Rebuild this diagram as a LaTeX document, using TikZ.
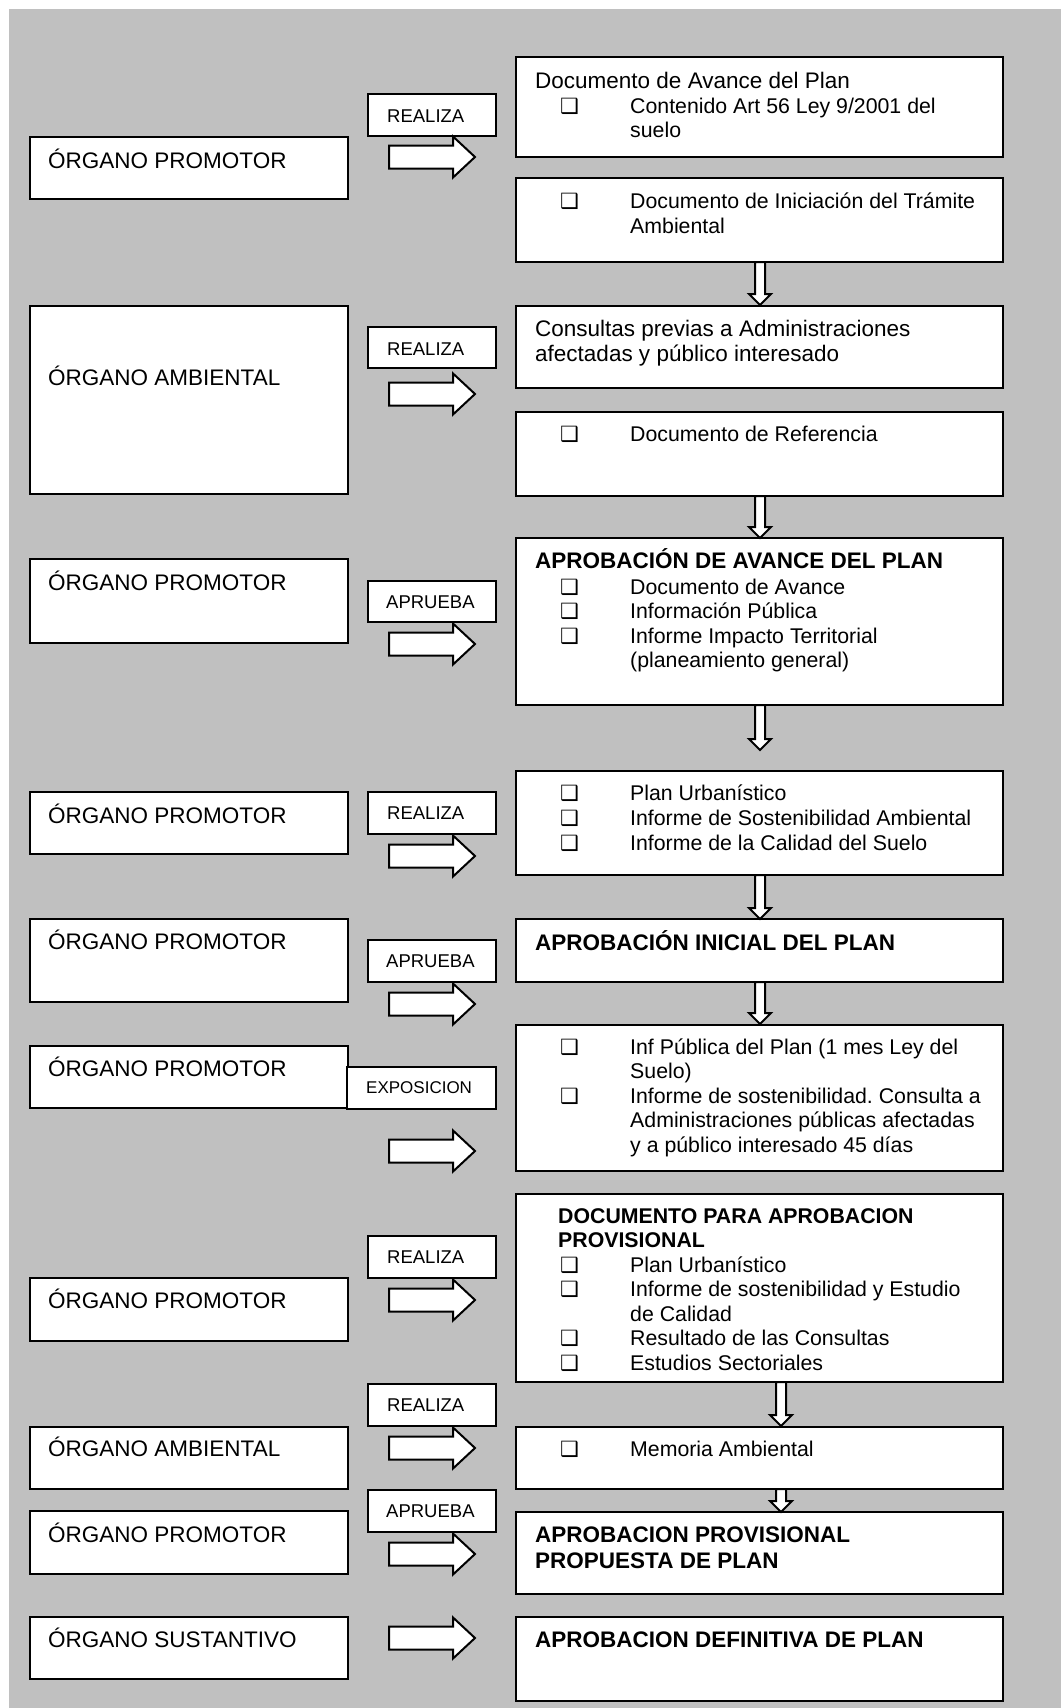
\documentclass[tikz,border=0pt]{standalone}
\usepackage{fontspec}
\setmainfont{Liberation Sans}
\newfontfamily\dejavu{DejaVu Sans}
\definecolor{bggray}{HTML}{C0C0C0}
\frenchspacing
\newcommand\chk{{\fontsize{21}{21}\dejavu ❑}}
\newcommand\Bx[5]{\node[box,anchor=north west,minimum width={(#4-#2)*1pt},minimum height={(#5-#3)*1pt}] (#1) at (#2,#3) {};}
\newcommand\Tx[4]{\node[txt] (#1) at (#2,#3) {#4};}
\newcommand\Ti[4]{\node[itxt] (#1) at (#2,#3) {#4};}
\newcommand\Bt[4]{\node[btxt] (#1) at (#2,#3) {#4};}
\newcommand\Lb[4]{\node[lab] (#1) at (#2,#3) {#4};}
\newcommand\It[3]{\node[txt] (#1c) at (560,#2) {\chk};\node[itxt] (#1) at (630,#2) {#3};}
\newcommand\RA[1]{\draw[arr] (389,{#1-11.5}) -- (453,{#1-11.5}) -- (453,{#1-20.5}) -- (475,#1) -- (453,{#1+20.5}) -- (453,{#1+11.5}) -- (389,{#1+11.5}) -- cycle;}
\newcommand\DA[3]{\draw[arr] ({#1-5},#2) -- ({#1+5},#2) -- ({#1+5},{#3-11}) -- ({#1+11},{#3-11}) -- (#1,#3) -- ({#1-11},{#3-11}) -- ({#1-5},{#3-11}) -- cycle;}
\begin{document}
\begin{tikzpicture}[x=1pt,y=-1pt,
  box/.style={draw=black,line width=2pt,fill=white,inner sep=0pt,outer sep=0pt},
  arr/.style={draw=black,line width=2pt,fill=white,line join=miter},
  txt/.style={anchor=base west,inner sep=0pt,font=\fontsize{22.5}{24}\selectfont},
  itxt/.style={txt,font=\fontsize{21.3}{24}\selectfont},
  btxt/.style={txt,font=\fontsize{22.5}{24}\selectfont\bfseries},
  lab/.style={txt,font=\fontsize{18.5}{20}\selectfont}]
\useasboundingbox (0,0) rectangle (1061,1708);
\fill[white] (0,0) rectangle (1061,1708);
\fill[bggray] (9,9) rectangle (1061,1708);
% left boxes
\Bx{l1}{30}{137}{348}{199}
\Bx{l2}{30}{306}{348}{494}
\Bx{l3}{30}{559}{348}{643}
\Bx{l4}{30}{792}{348}{854}
\Bx{l5}{30}{919}{348}{1002}
\Bx{l6}{30}{1046}{348}{1108}
\Bx{l7}{30}{1278}{348}{1341}
\Bx{l8}{30}{1427}{348}{1489}
\Bx{l9}{30}{1511}{348}{1574}
\Bx{l10}{30}{1617}{348}{1679}
% label boxes
\Bx{a1}{368}{94}{496}{136}
\Bx{a2}{368}{327}{496}{368}
\Bx{a3}{368}{581}{496}{622}
\Bx{a4}{368}{792}{496}{834}
\Bx{a5}{368}{940}{496}{982}
\Bx{a6}{347}{1067}{496}{1109}
\Bx{a7}{368}{1236}{496}{1278}
\Bx{a8}{368}{1384}{496}{1426}
\Bx{a9}{368}{1490}{496}{1532}
% right boxes
\Bx{r1}{516}{57}{1003}{157}
\Bx{r2}{516}{178}{1003}{262}
\Bx{r3}{516}{306}{1003}{388}
\Bx{r4}{516}{412}{1003}{496}
\Bx{r5}{516}{538}{1003}{705}
\Bx{r6}{516}{771}{1003}{875}
\Bx{r7}{516}{919}{1003}{982}
\Bx{r8}{516}{1025}{1003}{1171}
\Bx{r9}{516}{1194}{1003}{1382}
\Bx{r10}{516}{1427}{1003}{1489}
\Bx{r11}{516}{1512}{1003}{1594}
\Bx{r12}{516}{1617}{1003}{1701}
% left texts
\Tx{tl1}{48}{168}{ÓRGANO PROMOTOR}
\Tx{tl2}{48}{385}{ÓRGANO AMBIENTAL}
\Tx{tl3}{48}{590}{ÓRGANO PROMOTOR}
\Tx{tl4}{48}{823}{ÓRGANO PROMOTOR}
\Tx{tl5}{48}{949}{ÓRGANO PROMOTOR}
\Tx{tl6}{48}{1076}{ÓRGANO PROMOTOR}
\Tx{tl7}{48}{1308}{ÓRGANO PROMOTOR}
\Tx{tl8}{48}{1456}{ÓRGANO AMBIENTAL}
\Tx{tl9}{48}{1542}{ÓRGANO PROMOTOR}
\Tx{tl10}{48}{1647}{ÓRGANO SUSTANTIVO}
% label texts
\Lb{ta1}{387}{122}{REALIZA}
\Lb{ta2}{387}{355}{REALIZA}
\Lb{ta3}{386}{608}{APRUEBA}
\Lb{ta4}{387}{819}{REALIZA}
\Lb{ta5}{386}{967}{APRUEBA}
\node[lab,font=\fontsize{17}{19}\selectfont] (ta6) at (366,1093) {EXPOSICION};
\Lb{ta7}{387}{1263}{REALIZA}
\Lb{ta8}{387}{1411}{REALIZA}
\Lb{ta9}{386}{1517}{APRUEBA}
% right texts
\Tx{t1a}{535}{88}{Documento de Avance del Plan}
\It{t1b}{113}{Contenido Art 56 Ley 9/2001 del}
\Ti{t1c}{630}{137}{suelo}
\It{t2a}{208}{Documento de Iniciación del Trámite}
\Ti{t2b}{630}{233}{Ambiental}
\Tx{t3a}{535}{336}{Consultas previas a Administraciones}
\Tx{t3b}{535}{361}{afectadas y público interesado}
\It{t4a}{441}{Documento de Referencia}
\Bt{t5a}{535}{568}{APROBACIÓN DE AVANCE DEL PLAN}
\It{t5b}{594}{Documento de Avance}
\It{t5c}{618}{Información Pública}
\It{t5d}{643}{Informe Impacto Territorial}
\Ti{t5e}{630}{667}{(planeamiento general)}
\It{t6a}{800}{Plan Urbanístico}
\It{t6b}{825}{Informe de Sostenibilidad Ambiental}
\It{t6c}{850}{Informe de la Calidad del Suelo}
\Bt{t7a}{535}{950}{APROBACIÓN INICIAL DEL PLAN}
\It{t8a}{1054}{Inf Pública del Plan (1 mes Ley del}
\Ti{t8b}{630}{1078.5}{Suelo)}
\It{t8c}{1103}{Informe de sostenibilidad. Consulta a}
\Ti{t8d}{630}{1127.5}{Administraciones públicas afectadas}
\Ti{t8e}{630}{1152}{y a público interesado 45 días}
\node[btxt,font=\fontsize{21.3}{23}\selectfont\bfseries] (t9a) at (558,1223) {DOCUMENTO PARA APROBACION};
\node[btxt,font=\fontsize{21.3}{23}\selectfont\bfseries] (t9b) at (558,1247) {PROVISIONAL};
\It{t9c}{1272}{Plan Urbanístico}
\It{t9d}{1296.5}{Informe de sostenibilidad y Estudio}
\Ti{t9e}{630}{1321}{de Calidad}
\It{t9f}{1345.5}{Resultado de las Consultas}
\It{t9g}{1370}{Estudios Sectoriales}
\It{t10a}{1456}{Memoria Ambiental}
\Bt{t11a}{535}{1542}{APROBACION PROVISIONAL}
\Bt{t11b}{535}{1568}{PROPUESTA DE PLAN}
\Bt{t12a}{535}{1647}{APROBACION DEFINITIVA DE PLAN}
% right arrows
\RA{157}
\RA{394}
\RA{644}
\RA{856}
\RA{1004}
\RA{1151}
\RA{1300}
\RA{1448}
\RA{1554}
\RA{1638}
% down arrows
\DA{760}{262}{305}
\DA{760}{496}{538}
\DA{760}{705}{750}
\DA{760}{875}{919}
\DA{760}{982}{1024}
\DA{781}{1382}{1426}
\DA{781}{1489}{1512}
\end{tikzpicture}
\end{document}
